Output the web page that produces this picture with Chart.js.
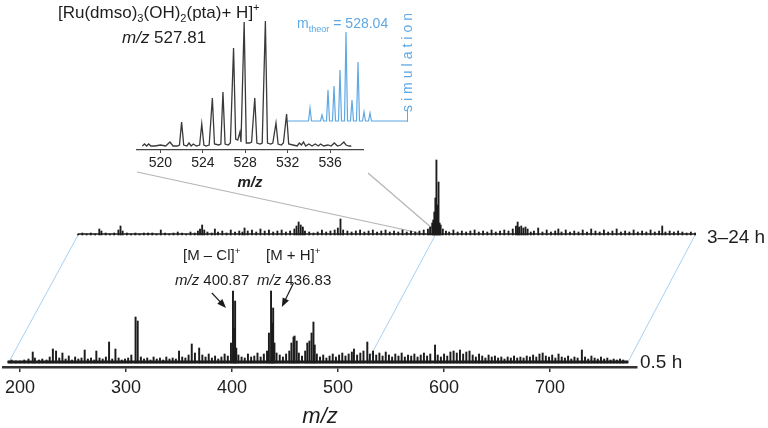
<!DOCTYPE html>
<html>
<head>
<meta charset="utf-8">
<script src="https://cdn.jsdelivr.net/npm/chart.js@4.4.1/dist/chart.umd.min.js"></script>
<style>
  body { margin: 0; background: #fff; }
  #wrap { position: relative; width: 768px; height: 428px; overflow: hidden;
          font-family: "Liberation Sans", Arial, sans-serif; color: #1e1e1e; }
  canvas { position: absolute; }
  .lbl { position: absolute; white-space: nowrap; line-height: 1; }
  .blue { color: #5ea8e4; }
  sub, sup { font-size: 0.65em; line-height: 0; }
</style>
</head>
<body>
<div id="wrap">
  <canvas id="main" width="768" height="428" style="left:0;top:0"></canvas>
  <canvas id="inset" width="228" height="190" style="left:136px;top:0"></canvas>
  <canvas id="sim" width="119" height="102" style="left:288px;top:20px"></canvas>

  <div class="lbl" style="left:58px;top:4px;font-size:17px">[Ru(dmso)<sub>3</sub>(OH)<sub>2</sub>(pta)+ H]<sup>+</sup></div>
  <div class="lbl" style="left:122px;top:29px;font-size:17px"><i>m/z</i> 527.81</div>
  <div class="lbl blue" style="left:297px;top:16px;font-size:14px">m<sub>theor</sub> = 528.04</div>
  <div class="lbl blue" style="left:400px;top:112px;font-size:14px;letter-spacing:4px;transform-origin:left top;transform:rotate(-90deg)">simulation</div>
  <div style="position:absolute;left:407px;top:110px;height:12px;border-left:1px solid #5ea8e4"></div>

  <div class="lbl" style="left:183px;top:247px;font-size:15px">[M – Cl]<sup>+</sup></div>
  <div class="lbl" style="left:175px;top:272px;font-size:15px"><i>m/z</i> 400.87</div>
  <div class="lbl" style="left:266px;top:247px;font-size:15px">[M + H]<sup>+</sup></div>
  <div class="lbl" style="left:257px;top:272px;font-size:15px"><i>m/z</i> 436.83</div>

  <div class="lbl" style="left:707px;top:227px;font-size:19px">3–24 h</div>
  <div class="lbl" style="left:640px;top:352px;font-size:19px">0.5 h</div>
</div>

<script>
// [m/z, relative intensity]
const spec05h = [
  [189,2],[192,3],[196,2],[200,2],[204,3],[208,4],[212,11],[214,5],[218,3],[221,4],
  [225,3],[228,6],[231,14],[234,12],[237,5],[240,10],[243,4],[246,7],[249,3],[252,6],
  [255,4],[258,5],[261,13],[264,4],[267,5],[270,3],[272,12],[275,5],[278,4],[281,6],
  [284,21],[287,4],[290,14],[293,5],[296,3],[299,4],[302,5],[305,8],[309,46],[311,42],
  [314,6],[317,4],[320,5],[323,3],[326,6],[329,4],[332,5],[335,3],[338,6],[341,4],
  [344,5],[347,4],[350,12],[353,6],[356,5],[359,8],[362,19],[365,10],[369,15],[372,8],
  [375,6],[378,9],[381,5],[384,7],[387,4],[390,6],[393,9],[396,7],[399,20],[400.9,72],
  [401.9,35],[402.9,62],[404,15],[406,8],[409,6],[412,5],[415,9],[418,6],[421,7],[424,10],
  [427,6],[430,9],[433,12],[434.8,30],[436.8,72],[437.8,40],[438.8,55],[440,20],[442,10],[445,8],
  [448,6],[451,9],[454,12],[456,20],[458,26],[459,27],[461,22],[463,10],[466,7],[469,12],
  [471,20],[473,22],[475,30],[476.8,41],[478,18],[480,9],[483,6],[486,8],[489,5],[492,7],
  [495,9],[498,6],[501,8],[504,10],[507,7],[510,9],[513,11],[515,14],[518,8],[521,10],
  [524,12],[527.6,21],[530,9],[533,12],[536,8],[539,10],[542,7],[545,11],[548,8],[551,6],
  [554,9],[557,7],[560,10],[563,6],[566,8],[569,7],[572,9],[575,6],[578,8],[581,10],
  [584,7],[587,9],[591.5,18],[594,8],[597,6],[600,9],[603,7],[606,11],[609,12],[612,10],
  [615,13],[618,9],[621,11],[624,12],[627,8],[630,6],[633,9],[636,7],[639,5],[642,8],
  [645,6],[648,7],[651,5],[654,6],[657,4],[660,6],[663,5],[666,7],[669,5],[672,6],
  [675,5],[678,7],[681,6],[684,8],[687,6],[690,9],[693,10],[696,7],[699,6],[702,8],
  [705,5],[708,9],[711,6],[714,5],[717,7],[720,4],[723,6],[726,5],[730,13],[733,6],
  [736,4],[739,7],[742,5],[745,4],[748,6],[751,4],[754,5],[757,3],[760,4],[763,3],
  [766,4],[769,3],[773,2]
];
const spec24h = [
  [190,1],[194,2],[198,1],[202,2],[206,1],[210,6],[212,4],[216,2],[220,1],[224,2],
  [228,5],[230,9],[232,4],[236,2],[240,1],[244,2],[248,1],[252,2],[256,2],[260,2],
  [264,1],[268,5],[272,2],[276,1],[280,2],[284,3],[288,2],[292,1],[296,3],[300,2],
  [303,4],[305,6],[307,10],[309,5],[312,3],[316,2],[319,6],[322,3],[326,4],[330,2],
  [334,5],[338,3],[342,4],[345,3],[347,7],[350,4],[354,5],[358,3],[362,6],[366,4],
  [370,5],[374,3],[378,4],[382,5],[386,3],[390,4],[394,6],[396,9],[398,13],[400,10],
  [402,8],[404,4],[408,3],[412,2],[416,3],[420,5],[424,3],[428,4],[432,5],[435,7],
  [437.5,16],[440,5],[444,4],[448,3],[452,4],[456,5],[460,3],[464,4],[468,5],[472,3],
  [476,4],[480,5],[484,3],[488,4],[492,3],[496,5],[500,3],[504,4],[508,3],[512,4],
  [516,5],[520,6],[522,8],[524,12],[525,15],[526,23],[527,37],[528,75],[529,30],[530,53],
  [531,12],[532,10],[534,6],[537,4],[540,3],[544,5],[548,3],[552,4],[556,3],[560,4],
  [564,5],[568,3],[572,4],[576,3],[580,5],[584,3],[588,4],[592,5],[596,4],[600,6],
  [603,9],[604.6,13],[606,8],[608,9],[610,7],[612,8],[614,6],[617,3],[620,4],[624,7],
  [628,3],[632,5],[636,3],[640,4],[643,6],[646,3],[650,5],[654,3],[658,4],[662,3],
  [666,5],[670,3],[674,6],[678,4],[682,3],[686,5],[690,3],[694,4],[698,6],[702,3],
  [706,4],[710,3],[714,5],[718,3],[722,4],[726,3],[730,5],[734,3],[738,4],[741,9],
  [744,3],[748,4],[752,3],[756,4],[760,3],[764,2],[768,3],[772,2]
];
// measured isotope pattern, 518-538
const zoomSpec = [
  [518.3,1],[518.5,3],[518.7,1],[518.9,3],[519.1,1],[519.5,1],[520.0,2],[520.5,1],[520.9,5],[521.2,1],
  [521.6,1],[521.8,2],[522.0,25],[522.2,2],[522.5,1],[522.7,4],[522.9,1],[523.1,3],[523.4,1],[523.7,2],
  [523.9,23],[524.1,2],[524.3,1],[524.6,2],[524.9,49],[525.1,3],[525.5,2],[525.7,3],[525.9,55],[526.1,3],
  [526.4,2],[526.6,4],[526.9,99],[527.1,8],[527.3,7],[527.5,15],[527.6,5],[527.9,125],[528.1,4],[528.4,4],
  [528.6,5],[528.9,49],[529.1,4],[529.4,3],[529.6,4],[529.9,126],[530.1,4],[530.4,3],[530.6,4],[530.9,24],
  [531.1,3],[531.4,2],[531.6,4],[531.9,33],[532.1,3],[532.5,2],[532.9,1],[533.1,4],[533.3,2],[533.5,5],
  [533.7,1],[534.0,3],[534.3,1],[534.6,3],[534.9,1],[535.1,3],[535.4,1],[535.8,2],[536.1,1],[536.4,4],
  [536.7,1],[537.0,2],[537.3,5],[537.5,2],[537.8,1],[538.0,1]
];
// simulated pattern
const simSpec = [
  [518.33,0],[521.75,0],[522,13],[522.25,0],[523.75,0],[524,6],[524.25,0],[524.75,0],[525,31],[525.25,0],
  [525.75,0],[526,35],[526.25,0],[526.75,0],[527,51],[527.25,0],[527.75,0],[528,89],[528.25,0],[528.75,0],
  [529,21],[529.25,0],[529.75,0],[530,59],[530.25,0],[530.75,0],[531,9],[531.25,0],[531.75,0],[532,8],
  [532.25,0],[538.17,0]
];
const mainTicks = [200, 300, 400, 500, 600, 700];
const zoomTicks = [520, 524, 528, 532, 536];
// arrows for the two labelled ions, [m/z, intensity] tail -> head
const arrows = [[[381, 70], [394.3, 55]], [[458, 80], [447, 56]]];

Chart.defaults.font.family = '"Liberation Sans", Arial, sans-serif';
Chart.defaults.color = '#1e1e1e';

const pts = s => s.map(p => ({x: p[0], y: p[1]}));
const ink = '#1c1c1c';
const blue = '#5ea8e4';

const zoomChart = new Chart(document.getElementById('inset'), {
  type: 'line',
  data: {datasets: [{data: pts(zoomSpec), borderColor: '#3a3a3a', borderWidth: 1.3,
                     pointRadius: 0, tension: 0, clip: false}]},
  options: {
    responsive: false, animation: false,
    layout: {padding: 0},
    plugins: {legend: {display: false}, tooltip: {enabled: false}},
    scales: {
      x: {type: 'linear', min: 517.7, max: 539.2, offset: false,
          afterBuildTicks: s => { s.ticks = zoomTicks.map(v => ({value: v})); },
          afterFit: s => { s.height = 40; },
          grid: {drawOnChartArea: false, tickLength: 3, tickColor: '#444', offset: false},
          border: {color: '#444', width: 1.2},
          ticks: {font: {size: 14}, color: '#222', padding: 2, maxRotation: 0},
          title: {display: true, text: 'm/z', color: '#222', padding: 0,
                  font: {size: 15, weight: 'bold', style: 'italic', lineHeight: 1}}},
      y: {display: false, min: -3, max: 147}
    }
  }
});

new Chart(document.getElementById('sim'), {
  type: 'line',
  data: {datasets: [{data: pts(simSpec), borderColor: blue, borderWidth: 1.2,
                     pointRadius: 0, tension: 0, clip: false}]},
  options: {
    responsive: false, animation: false,
    layout: {padding: 0},
    plugins: {legend: {display: false}, tooltip: {enabled: false}},
    scales: {
      x: {type: 'linear', display: false, min: 518.33, max: 538.17},
      y: {display: false, min: -1, max: 101}
    }
  }
});

const guides = {
  id: 'guides',
  beforeDatasetsDraw(chart) {
    const {ctx, scales: {x, y, x2, y2}} = chart;
    const seg = (a, b) => { ctx.beginPath(); ctx.moveTo(a[0], a[1]); ctx.lineTo(b[0], b[1]); ctx.stroke(); };
    ctx.save();
    // frame joining the two traces
    ctx.strokeStyle = '#a9d0f1';
    ctx.lineWidth = 1;
    const e0 = spec05h[0][0], e1 = spec05h[spec05h.length - 1][0];
    const l0 = spec24h[0][0], l1 = spec24h[spec24h.length - 1][0];
    [[e0, l0], [e1, l1], [527, 527]].forEach(([a, b]) => {
      seg([x.getPixelForValue(a), y.getPixelForValue(0)], [x2.getPixelForValue(b), y2.getPixelForValue(0)]);
    });
    // zoom connectors
    const ix = zoomChart.scales.x;
    const ox = zoomChart.canvas.offsetLeft, oy = zoomChart.canvas.offsetTop;
    ctx.strokeStyle = '#b4b4b4';
    ctx.lineWidth = 1.2;
    seg([ox + ix.left + 1, oy + ix.top + 22], [x2.getPixelForValue(521), y2.getPixelForValue(0)]);
    seg([ox + ix.right + 4, oy + ix.top + 23], [x2.getPixelForValue(524.8), y2.getPixelForValue(6)]);
    ctx.restore();
  },
  afterDatasetsDraw(chart) {
    const {ctx, scales: {x, y}} = chart;
    ctx.save();
    ctx.strokeStyle = ink;
    ctx.fillStyle = ink;
    ctx.lineWidth = 1.2;
    arrows.forEach(([from, to]) => {
      const x0 = x.getPixelForValue(from[0]), y0 = y.getPixelForValue(from[1]);
      const x1 = x.getPixelForValue(to[0]), y1 = y.getPixelForValue(to[1]);
      const ang = Math.atan2(y1 - y0, x1 - x0);
      ctx.beginPath(); ctx.moveTo(x0, y0); ctx.lineTo(x1 - 6 * Math.cos(ang), y1 - 6 * Math.sin(ang)); ctx.stroke();
      ctx.beginPath();
      ctx.moveTo(x1, y1);
      ctx.lineTo(x1 - 9 * Math.cos(ang) + 3.5 * Math.sin(ang), y1 - 9 * Math.sin(ang) - 3.5 * Math.cos(ang));
      ctx.lineTo(x1 - 9 * Math.cos(ang) - 3.5 * Math.sin(ang), y1 - 9 * Math.sin(ang) + 3.5 * Math.cos(ang));
      ctx.closePath();
      ctx.fill();
    });
    ctx.restore();
  }
};

const baseOf = s => [{x: s[0][0], y: 1}, {x: s[s.length - 1][0], y: 1}];

new Chart(document.getElementById('main'), {
  type: 'bar',
  data: {
    datasets: [
      {type: 'line', data: baseOf(spec05h), xAxisID: 'x', yAxisID: 'y',
       borderColor: ink, borderWidth: 3, pointRadius: 0},
      {label: '0.5 h', data: pts(spec05h), xAxisID: 'x', yAxisID: 'y',
       backgroundColor: ink, barThickness: 1.3, grouped: false},
      {type: 'line', data: baseOf(spec24h), xAxisID: 'x2', yAxisID: 'y2',
       borderColor: ink, borderWidth: 1.6, pointRadius: 0, clip: false},
      {label: '3–24 h', data: pts(spec24h), xAxisID: 'x2', yAxisID: 'y2',
       backgroundColor: ink, barThickness: 1.2, grouped: false, clip: false}
    ]
  },
  options: {
    responsive: false, animation: false,
    layout: {padding: {left: 0, right: 131, top: 100, bottom: 0}},
    plugins: {legend: {display: false}, tooltip: {enabled: false}},
    scales: {
      x: {type: 'linear', position: 'bottom', min: 184, max: 782, offset: false,
          afterBuildTicks: s => { s.ticks = mainTicks.map(v => ({value: v})); },
          afterFit: s => { s.height = 61; },
          grid: {drawOnChartArea: false, tickLength: 5, tickColor: '#333', lineWidth: 1.5, offset: false},
          border: {color: '#333', width: 2.5},
          ticks: {font: {size: 18}, color: '#1e1e1e', padding: 5, maxRotation: 0},
          title: {display: true, text: 'm/z', color: '#1e1e1e', padding: 0,
                  font: {size: 22, style: 'italic', lineHeight: 1}}},
      y: {display: false, min: -4, max: 263},
      x2: {type: 'linear', display: false, min: 119.2, max: 717.2, offset: false},
      y2: {display: false, min: -132, max: 135}
    }
  },
  plugins: [guides]
});
</script>
</body>
</html>
